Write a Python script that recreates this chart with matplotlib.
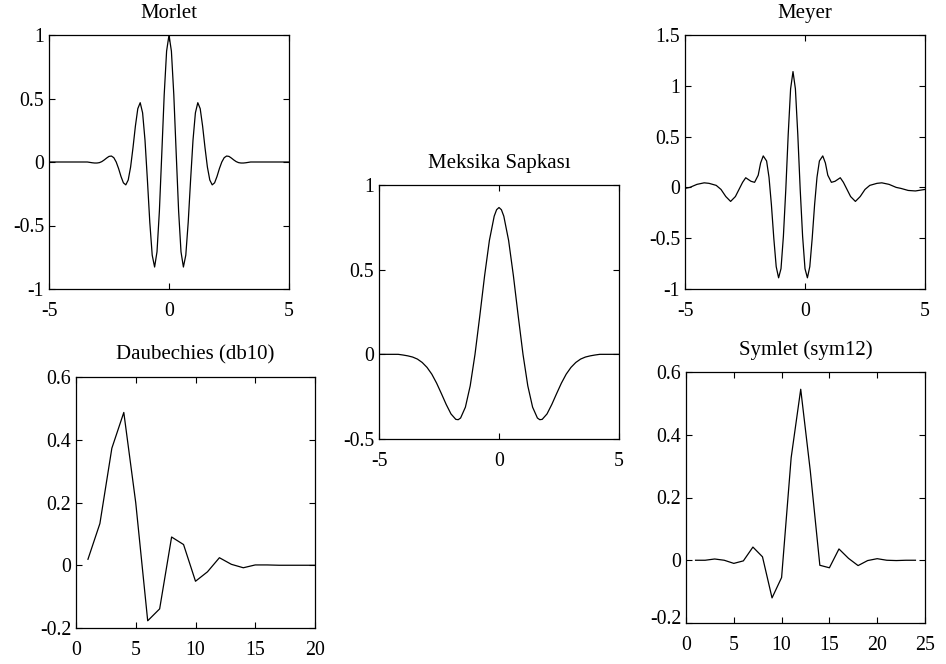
import numpy as np
import matplotlib
matplotlib.use('Agg')
import matplotlib.pyplot as plt
import matplotlib.transforms as mtransforms
from matplotlib.ticker import FormatStrFormatter

plt.rcParams['font.family'] = ['Liberation Serif', 'DejaVu Serif']
plt.rcParams['axes.unicode_minus'] = False

# Morlet (symmetric about 0)
morlet_xr = [0, 0.1, 0.2, 0.3, 0.4, 0.5, 0.6, 0.7, 0.8, 0.9, 1.0, 1.1, 1.2, 1.3, 1.4, 1.5,
             1.6, 1.7, 1.8, 1.9, 2.0, 2.1, 2.2, 2.3, 2.4, 2.5, 2.6, 2.7, 2.8, 2.9, 3.0, 3.1,
             3.2, 3.3, 3.4, 5.0]
morlet_yr = [1.0, 0.873, 0.530, 0.068, -0.384, -0.707, -0.827, -0.733, -0.475, -0.141, 0.172,
             0.387, 0.467, 0.420, 0.283, 0.113, -0.040, -0.142, -0.180, -0.164, -0.114, -0.052,
             0.0, 0.034, 0.047, 0.044, 0.031, 0.016, 0.003, -0.005, -0.008, -0.008, -0.006,
             -0.003, 0.0, 0.0]

# Mexican hat
mexh_xr = [0, 0.1, 0.2, 0.4, 0.6, 0.8, 1.0, 1.2, 1.4, 1.6, 1.7, 1.8, 2.0, 2.2, 2.4, 2.6, 2.8,
           3.0, 3.2, 3.4, 3.6, 3.8, 4.0, 4.2, 5.0]
mexh_yr = [0.867, 0.854, 0.816, 0.673, 0.464, 0.227, 0.0, -0.186, -0.312, -0.376, -0.386,
           -0.384, -0.352, -0.296, -0.232, -0.170, -0.117, -0.077, -0.048, -0.028, -0.016,
           -0.009, -0.004, 0.0, 0.0]

# Meyer, u = distance from centre at x = -0.5
meyer_c = -0.5
meyer_u = [0, 0.1, 0.2, 0.3, 0.4, 0.5, 0.6, 0.7, 0.8, 0.9, 1.0, 1.1, 1.24, 1.35, 1.45, 1.6,
           1.75, 1.97, 2.1, 2.25, 2.4, 2.6, 2.8, 3.0, 3.2, 3.5, 3.7, 4.0, 4.3, 4.5, 4.8, 5.1, 5.5]
meyer_v = [1.14, 0.97, 0.52, -0.02, -0.48, -0.80, -0.89, -0.78, -0.50, -0.17, 0.10, 0.26, 0.31,
           0.24, 0.12, 0.05, 0.06, 0.095, 0.05, -0.02, -0.09, -0.138, -0.09, -0.02, 0.02, 0.04,
           0.045, 0.03, 0.0, -0.01, -0.03, -0.035, -0.02]

# Daubechies db10 filter
db10_n = list(range(1, 21))
db10_h = [0.019, 0.133, 0.373, 0.487, 0.199, -0.177, -0.139, 0.090, 0.066, -0.051, -0.021,
          0.024, 0.003, -0.008, 0.001, 0.001, 0.0, 0.0, 0.0, 0.0]

# Symlet sym12 filter
sym12_n = list(range(1, 25))
sym12_h = [0.0, 0.0, 0.004, 0.0, -0.010, -0.002, 0.042, 0.011, -0.120, -0.055, 0.327, 0.545,
           0.285, -0.016, -0.024, 0.036, 0.006, -0.017, -0.001, 0.005, 0.0, -0.001, 0.0, 0.0]

# mirror the symmetric curves
morlet_x = [-v for v in morlet_xr[::-1]] + morlet_xr[1:]
morlet_y = morlet_yr[::-1] + morlet_yr[1:]
mexh_x = [-v for v in mexh_xr[::-1]] + mexh_xr[1:]
mexh_y = mexh_yr[::-1] + mexh_yr[1:]
meyer_x = [meyer_c - u for u in meyer_u[::-1] if meyer_c - u >= -5] + [meyer_c + u for u in meyer_u[1:]]
meyer_y = [v for u, v in zip(meyer_u[::-1], meyer_v[::-1]) if meyer_c - u >= -5] + meyer_v[1:]

W, H = 946, 664
fig = plt.figure(figsize=(W / 100, H / 100), dpi=100)


def box(l, t, r, b):
    return [l / W, (H - b) / H, (r - l) / W, (b - t) / H]


def style(ax, title, xl, yl, xt, yt):
    ax.set_xlim(xl)
    ax.set_ylim(yl)
    ax.set_xticks(xt)
    ax.set_yticks(yt)
    ax.xaxis.set_major_formatter(FormatStrFormatter('%g'))
    ax.yaxis.set_major_formatter(FormatStrFormatter('%g'))
    ax.tick_params(direction='in', top=True, right=True, length=4, width=0.8,
                   labelsize=14.3)
    ax.tick_params(axis='x', pad=9.5)
    ax.tick_params(axis='y', pad=3.5)
    for s in ax.spines.values():
        s.set_linewidth(0.9)
    ax.set_title(title, fontsize=15, pad=12.5)


lw = 0.9
ax1 = fig.add_axes(box(49, 35, 289, 289))
ax1.plot(morlet_x, morlet_y, color='black', lw=lw)
style(ax1, 'Morlet', (-5, 5), (-1, 1), [-5, 0, 5], [-1, -0.5, 0, 0.5, 1])

ax2 = fig.add_axes(box(379, 185, 619, 439))
ax2.plot(mexh_x, mexh_y, color='black', lw=lw)
style(ax2, 'Meksika Sapkası', (-5, 5), (-0.5, 1), [-5, 0, 5], [-0.5, 0, 0.5, 1])

ax3 = fig.add_axes(box(685, 35, 925, 289))
ax3.plot(meyer_x, meyer_y, color='black', lw=lw)
style(ax3, 'Meyer', (-5, 5), (-1, 1.5), [-5, 0, 5], [-1, -0.5, 0, 0.5, 1, 1.5])

ax4 = fig.add_axes(box(76, 377, 315, 628))
ax4.plot(db10_n, db10_h, color='black', lw=lw)
style(ax4, 'Daubechies (db10)', (0, 20), (-0.2, 0.6), [0, 5, 10, 15, 20], [-0.2, 0, 0.2, 0.4, 0.6])

ax5 = fig.add_axes(box(686, 372, 925, 623))
ax5.plot(sym12_n, sym12_h, color='black', lw=lw)
style(ax5, 'Symlet (sym12)', (0, 25), (-0.2, 0.6), [0, 5, 10, 15, 20, 25], [-0.2, 0, 0.2, 0.4, 0.6])

# lowest Symlet label sits a little above its tick in the original
fig.canvas.draw()
lab = ax5.get_yticklabels()[0]
lab.set_transform(lab.get_transform() + mtransforms.ScaledTranslation(0, 6 / 100, fig.dpi_scale_trans))

fig.savefig('out.png', dpi=100)
